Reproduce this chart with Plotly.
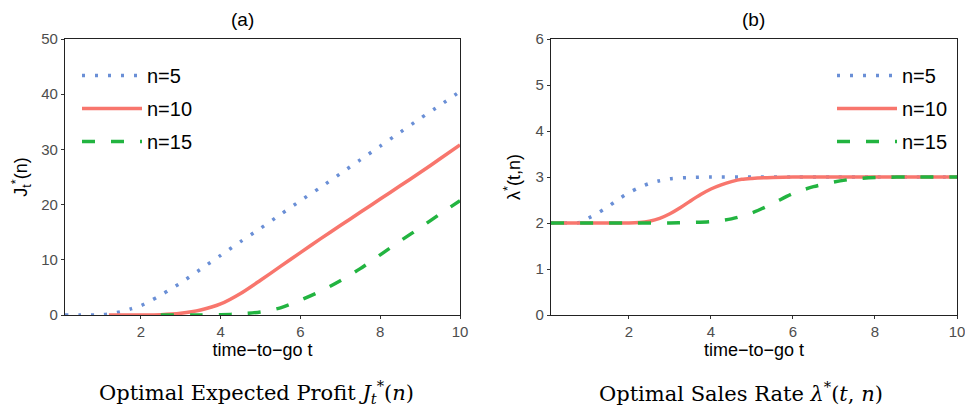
import plotly.graph_objects as go

# ---------------- data ----------------
# Panel (a): optimal expected profit J_t^*(n)
t_j5 = [0.1, 0.5, 1.0, 1.25, 1.5, 1.75, 2.0, 2.25, 2.5, 2.75, 3.0, 3.5, 4.0, 4.5, 5.0,
        5.5, 6.0, 6.5, 7.0, 7.5, 8.0, 8.5, 9.0, 9.5, 10.0]
j5 = [0, 0, 0.05, 0.25, 0.6, 1.1, 1.7, 2.6, 3.6, 4.7, 5.8, 8.3, 10.8, 13.3, 15.7,
      18.2, 20.7, 23.1, 25.6, 28.1, 30.6, 33.1, 35.6, 38.0, 40.5]

t_j10 = [1.2, 2.0, 2.5, 3.0, 3.5, 4.0, 4.5, 5.0, 5.5, 6.0, 6.5, 7.0, 7.5, 8.0, 8.5,
         9.0, 9.5, 10.0]
j10 = [0, 0, 0.05, 0.3, 0.9, 2.0, 3.9, 6.3, 8.8, 11.3, 13.8, 16.2, 18.6, 21.0, 23.4,
       25.8, 28.3, 30.8]

t_j15 = [2.5, 3.5, 4.0, 4.5, 5.0, 5.5, 6.0, 6.5, 7.0, 7.5, 8.0, 8.5, 9.0, 9.5, 10.0]
j15 = [0, 0, 0.05, 0.2, 0.55, 1.3, 2.7, 4.3, 6.2, 8.4, 10.9, 13.4, 15.8, 18.3, 20.7]

# Panel (b): optimal sales rate lambda^*(t,n)
t_l5 = [0.1, 0.5, 0.8, 1.0, 1.25, 1.5, 1.75, 2.0, 2.25, 2.5, 2.75, 3.0, 3.5, 4.0,
        5.0, 6.0, 7.0, 8.0, 9.0, 10.0]
l5 = [2, 2, 2.01, 2.1, 2.22, 2.36, 2.52, 2.66, 2.77, 2.86, 2.92, 2.96, 2.99, 3,
      3, 3, 3, 3, 3, 3]

t_l10 = [0.1, 1.0, 2.0, 2.25, 2.5, 2.75, 3.0, 3.25, 3.5, 3.75, 4.0, 4.25, 4.5, 4.75,
         5.0, 5.5, 6.0, 7.0, 8.0, 9.0, 10.0]
l10 = [2, 2, 2, 2.01, 2.04, 2.1, 2.2, 2.33, 2.48, 2.62, 2.74, 2.83, 2.9, 2.95,
       2.97, 2.99, 3, 3, 3, 3, 3]

t_l15 = [0.1, 2.0, 3.0, 3.5, 4.0, 4.5, 5.0, 5.5, 6.0, 6.5, 7.0, 7.5, 8.0, 9.0, 10.0]
l15 = [2, 2, 2, 2.01, 2.03, 2.09, 2.22, 2.42, 2.64, 2.79, 2.89, 2.96, 2.99, 3, 3]

series_names = ["n=5", "n=10", "n=15"]
x_ticks = [2, 4, 6, 8, 10]
y_ticks_a = [0, 10, 20, 30, 40, 50]
y_ticks_b = [0, 1, 2, 3, 4, 5, 6]

# ---------------- styles ----------------
colors = ["#6A8FD6", "#F8766D", "#22B440"]
dashes = ["3px,10px", "solid", "13px,16px"]
widths = [3.5, 3.5, 3.5]

W, H = 965, 411
def px(v, total):
    return v / total

fig = go.Figure()

panel_a = [(t_j5, j5), (t_j10, j10), (t_j15, j15)]
panel_b = [(t_l5, l5), (t_l10, l10), (t_l15, l15)]

for i, (tt, yy) in enumerate(panel_a):
    fig.add_trace(go.Scatter(
        x=tt, y=yy, mode="lines", name=series_names[i],
        line=dict(color=colors[i], dash=dashes[i], width=widths[i], shape="spline", smoothing=0.8),
        xaxis="x", yaxis="y", legend="legend", legendgroup=f"a{i}"))

for i, (tt, yy) in enumerate(panel_b):
    fig.add_trace(go.Scatter(
        x=tt, y=yy, mode="lines", name=series_names[i],
        line=dict(color=colors[i], dash=dashes[i], width=widths[i], shape="spline", smoothing=0.8),
        xaxis="x2", yaxis="y2", legend="legend2", legendgroup=f"b{i}"))

axis_common = dict(
    showline=True, mirror=True, linecolor="#222222", linewidth=1.3,
    ticks="outside", ticklen=3, tickwidth=1, tickcolor="#333333",
    showgrid=False, zeroline=False, automargin=False, ticklabeloverflow="allow",
    tickfont=dict(family="Liberation Sans", size=15, color="#4D4D4D"),
)

left_x0, left_x1 = 65, 460
right_x0, right_x1 = 551, 957
top_y, bot_y = 39, 315

xdom_a = [px(left_x0, W), px(left_x1, W)]
xdom_b = [px(right_x0, W), px(right_x1, W)]
ydom = [1 - px(bot_y, H), 1 - px(top_y, H)]

title_font = dict(family="Liberation Sans", size=18, color="black")
head_font = dict(family="Liberation Sans", size=19, color="black")
legend_font = dict(family="Liberation Sans", size=20, color="black")

fig.update_layout(
    width=W, height=H,
    margin=dict(l=0, r=0, t=0, b=0, autoexpand=False),
    paper_bgcolor="white", plot_bgcolor="white",
    xaxis=dict(domain=xdom_a, range=[0.1, 10], tickvals=x_ticks, anchor="y",
               title=dict(text="time−to−go t", font=title_font, standoff=3), **axis_common),
    yaxis=dict(domain=ydom, range=[0, 50], tickvals=y_ticks_a, anchor="x",
               title=dict(text="J<sub>t</sub><sup>*</sup>(n)", font=title_font, standoff=8), **axis_common),
    xaxis2=dict(domain=xdom_b, range=[0.1, 10], tickvals=x_ticks, anchor="y2",
                title=dict(text="time−to−go t", font=title_font, standoff=3), **axis_common),
    yaxis2=dict(domain=ydom, range=[0, 6], tickvals=y_ticks_b, anchor="x2",
                title=dict(text="λ<sup>*</sup>(t,n)", font=title_font, standoff=10), **axis_common),
    legend=dict(x=px(77, W), y=1 - px(56, H), xanchor="left", yanchor="top",
                font=legend_font, bgcolor="rgba(0,0,0,0)", itemwidth=60, tracegroupgap=4),
    legend2=dict(x=px(953, W), y=1 - px(56, H), xanchor="right", yanchor="top",
                 font=legend_font, bgcolor="rgba(0,0,0,0)", itemwidth=60, tracegroupgap=4),
    showlegend=True,
)

cap_font = dict(family="DejaVu Serif", size=21, color="black")
fig.add_annotation(text="(a)", x=px(243, W), y=1 - px(19, H), xref="paper", yref="paper",
                   showarrow=False, font=head_font, xanchor="center", yanchor="middle")
fig.add_annotation(text="(b)", x=px(753, W), y=1 - px(19, H), xref="paper", yref="paper",
                   showarrow=False, font=head_font, xanchor="center", yanchor="middle")
fig.add_annotation(text="Optimal Expected Profit <i>J</i><sub><i>t</i></sub><sup>*</sup>(<i>n</i>)",
                   x=px(256, W), y=1 - px(392, H), xref="paper", yref="paper",
                   showarrow=False, font=cap_font, xanchor="center", yanchor="middle")
fig.add_annotation(text="Optimal Sales Rate <i>λ</i><sup>*</sup>(<i>t</i>, <i>n</i>)",
                   x=px(741, W), y=1 - px(392, H), xref="paper", yref="paper",
                   showarrow=False, font=cap_font, xanchor="center", yanchor="middle")

fig.write_html("out.html")
